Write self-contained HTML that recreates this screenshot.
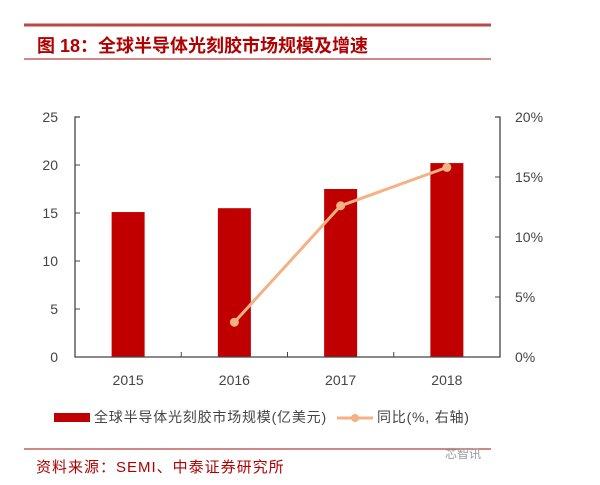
<!DOCTYPE html>
<html><head><meta charset="utf-8"><style>
body{margin:0;background:#fff;width:600px;height:480px;overflow:hidden;font-family:"Liberation Sans","Noto Sans CJK SC",sans-serif}
</style></head><body>
<svg width="600" height="480" xmlns="http://www.w3.org/2000/svg">
<line x1="24" y1="25" x2="491" y2="25" stroke="#b84a4a" stroke-width="3"/>
<text x="37" y="52" font-size="18" font-weight="bold" fill="#b00000">图 18：全球半导体光刻胶市场规模及增速</text>
<line x1="24" y1="59" x2="491" y2="59" stroke="#c06060" stroke-width="1.5"/>
<g id="plot"></g>
<g>
<rect x="54" y="413" width="36" height="9" fill="#c00000"/>
<text x="94" y="422" font-size="14" letter-spacing="0.8" fill="#444">全球半导体光刻胶市场规模(亿美元)</text>
<line x1="337" y1="418" x2="373" y2="418" stroke="#f4b183" stroke-width="3"/>
<circle cx="355" cy="418" r="4" fill="#f4b183"/>
<text x="377" y="422" font-size="14" letter-spacing="0.8" fill="#444">同比(%, 右轴)</text>
</g>
<line x1="24" y1="449" x2="491" y2="449" stroke="#c06060" stroke-width="1.5"/>
<text x="36" y="472" font-size="15" letter-spacing="1" fill="#b00000">资料来源：SEMI、中泰证券研究所</text>
<text x="445" y="458" font-size="12" fill="#999">芯智讯</text>
</svg>
<script>
const categories=["2015","2016","2017","2018"];
const marketSize=[15.1,15.5,17.5,20.2];
const yoyPct=[null,2.9,12.6,15.8];
const leftTicks=[0,5,10,15,20,25];
const rightTicks=[0,5,10,15,20];
const NS="http://www.w3.org/2000/svg";
const g=document.getElementById('plot');
const X0=75,X1=500,Y0=357,Y1=117;
const yL=v=>Y0-(v/25)*(Y0-Y1);
const yR=v=>Y0-(v/20)*(Y0-Y1);
const bw=(X1-X0)/categories.length;
const xc=i=>X0+bw*(i+0.5);
function mk(t,a){const e=document.createElementNS(NS,t);for(const k in a)e.setAttribute(k,a[k]);g.appendChild(e);return e;}
categories.forEach((c,i)=>{
 const b=mk('rect',{x:xc(i)-16.5,y:yL(marketSize[i]),width:33,height:Y0-yL(marketSize[i]),fill:'#c00000'});
 
 
 const t=mk('text',{x:xc(i),y:385,'font-size':14,fill:'#444','text-anchor':'middle'});t.textContent=c;
 
 
 if(i>0){const tk=mk('line',{x1:X0+bw*i,x2:X0+bw*i,y1:Y0,y2:Y0-5,stroke:'#444'});
 
 }
});
const ax=mk('path',{d:`M${X0+5} ${Y1}H${X0}V${Y0}H${X1}V${Y1}H${X1-5}`,fill:'none',stroke:'#444','stroke-width':1.3});


leftTicks.forEach(v=>{
 const l=mk('line',{x1:X0,x2:X0+5,y1:yL(v),y2:yL(v),stroke:'#444'});
 
 
 const t=mk('text',{x:58,y:yL(v)+5,'font-size':14,fill:'#444','text-anchor':'end'});t.textContent=v;
 
 
});
rightTicks.forEach(v=>{
 const l=mk('line',{x1:X1-5,x2:X1,y1:yR(v),y2:yR(v),stroke:'#444'});
 
 
 const t=mk('text',{x:515,y:yR(v)+5,'font-size':14,fill:'#444'});t.textContent=v+'%';
 
 
});
const pts=[];yoyPct.forEach((v,i)=>{if(v!==null)pts.push([xc(i),yR(v)]);});
const ln=mk('polyline',{points:pts.map(p=>p.join(',')).join(' '),fill:'none',stroke:'#f4b183','stroke-width':3});


pts.forEach(p=>{const c=mk('circle',{cx:p[0],cy:p[1],r:4.5,fill:'#f4b183'});
 
 });
</script>
</body></html>
